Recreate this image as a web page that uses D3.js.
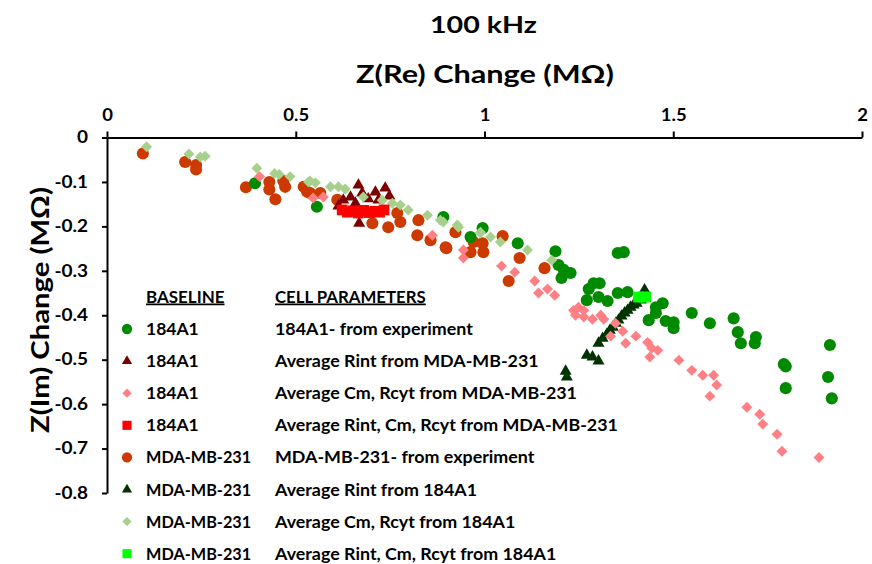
<!DOCTYPE html>
<html>
<head>
<meta charset="utf-8">
<script src="https://cdn.jsdelivr.net/npm/d3@7"></script>
<style>
  html, body { margin: 0; padding: 0; background: #fff; }
  svg { display: block; font-family: Lato, "Open Sans", sans-serif; font-weight: 700; }
</style>
</head>
<body>
<svg id="chart" width="872" height="564"></svg>
<script>
// Impedance change at 100 kHz: [Z(Re) change, Z(Im) change] in MΩ
const a184Experiment = [
  [0.392,-0.103],[0.556,-0.156],[0.891,-0.179],[0.995,-0.204],[0.963,-0.224],[1.088,-0.238],
  [1.188,-0.256],[1.196,-0.287],[1.210,-0.298],[1.228,-0.305],[1.204,-0.316],[1.353,-0.260],
  [1.369,-0.258],[1.276,-0.341],[1.289,-0.328],[1.305,-0.328],[1.302,-0.359],[1.326,-0.368],
  [1.271,-0.366],[1.353,-0.350],[1.379,-0.348],[1.472,-0.373],[1.454,-0.382],[1.454,-0.395],
  [1.435,-0.411],[1.480,-0.413],[1.501,-0.416],[1.501,-0.429],[1.549,-0.395],[1.597,-0.418],
  [1.660,-0.407],[1.671,-0.438],[1.679,-0.463],[1.719,-0.449],[1.716,-0.463],[1.793,-0.510],
  [1.798,-0.515],[1.798,-0.564],[1.915,-0.467],[1.910,-0.539],[1.920,-0.587]
];
const a184RintFromMda = [
  [0.666,-0.107],[0.737,-0.114],[0.711,-0.123],[0.676,-0.125],[0.645,-0.134],[0.626,-0.141],
  [0.692,-0.138],[0.719,-0.141],[0.748,-0.132],[0.658,-0.148],[0.668,-0.193],[0.613,-0.154]
];
const a184CmRcytFromMda = [
  [0.404,-0.088],[0.546,-0.136],[0.573,-0.134],[0.862,-0.220],[0.944,-0.253],[0.944,-0.271],
  [1.045,-0.289],[1.080,-0.303],[1.133,-0.323],[1.143,-0.350],[1.167,-0.341],[1.186,-0.355],
  [1.236,-0.389],[1.249,-0.382],[1.263,-0.389],[1.263,-0.404],[1.241,-0.400],[1.286,-0.409],
  [1.308,-0.400],[1.316,-0.409],[1.347,-0.418],[1.366,-0.436],[1.334,-0.447],[1.374,-0.463],
  [1.401,-0.447],[1.432,-0.461],[1.443,-0.474],[1.459,-0.479],[1.438,-0.494],[1.515,-0.501],
  [1.549,-0.524],[1.578,-0.535],[1.607,-0.535],[1.615,-0.557],[1.597,-0.582],[1.695,-0.607],
  [1.729,-0.623],[1.737,-0.645],[1.775,-0.668],[1.788,-0.706],[1.886,-0.720]
];
const a184AllFromMda = [
  [0.623,-0.163],[0.637,-0.168],[0.652,-0.165],[0.666,-0.170],[0.680,-0.164],
  [0.695,-0.169],[0.709,-0.166],[0.722,-0.168],[0.734,-0.163]
];
const mdaExperiment = [
  [0.095,-0.036],[0.207,-0.055],[0.236,-0.062],[0.236,-0.072],[0.368,-0.112],[0.430,-0.100],
  [0.430,-0.117],[0.446,-0.139],[0.472,-0.111],[0.467,-0.098],[0.521,-0.111],[0.530,-0.122],
  [0.538,-0.125],[0.565,-0.125],[0.610,-0.140],[0.703,-0.193],[0.745,-0.202],[0.777,-0.190],
  [0.769,-0.170],[0.825,-0.186],[0.822,-0.220],[0.857,-0.231],[0.897,-0.247],[0.923,-0.213],
  [0.899,-0.249],[0.971,-0.235],[0.995,-0.238],[0.997,-0.258],[0.963,-0.258],[1.048,-0.222],
  [1.093,-0.271],[1.064,-0.323],[1.159,-0.294]
];
const mdaRintFrom184 = [
  [1.302,-0.463],[1.313,-0.452],[1.324,-0.443],[1.332,-0.434],[1.340,-0.427],[1.348,-0.418],
  [1.355,-0.411],[1.363,-0.402],[1.371,-0.395],[1.379,-0.389],[1.387,-0.382],[1.395,-0.377],
  [1.403,-0.373],[1.414,-0.366],[1.424,-0.343],[1.271,-0.490],[1.286,-0.494],[1.302,-0.503],
  [1.215,-0.526],[1.218,-0.539]
];
const mdaCmRcytFrom184 = [
  [0.105,-0.021],[0.217,-0.037],[0.247,-0.044],[0.260,-0.042],[0.397,-0.069],[0.444,-0.081],
  [0.456,-0.083],[0.485,-0.088],[0.534,-0.100],[0.552,-0.102],[0.538,-0.098],[0.592,-0.111],
  [0.613,-0.111],[0.631,-0.116],[0.679,-0.134],[0.729,-0.141],[0.756,-0.148],[0.777,-0.152],
  [0.798,-0.163],[0.849,-0.175],[0.883,-0.186],[0.891,-0.190],[0.928,-0.197],[0.931,-0.202],
  [0.989,-0.213],[0.989,-0.215],[1.016,-0.224],[1.042,-0.235],[1.114,-0.253],[1.178,-0.276]
];
const mdaAllFrom184 = [[1.408,-0.359],[1.419,-0.359],[1.427,-0.359]];

const xTicks = [0, 0.5, 1, 1.5, 2];
const yTicks = [0, -0.1, -0.2, -0.3, -0.4, -0.5, -0.6, -0.7, -0.8];

const baselines = ["184A1","184A1","184A1","184A1","MDA-MB-231","MDA-MB-231","MDA-MB-231","MDA-MB-231"];
const parameters = [
  "184A1- from experiment",
  "Average Rint from MDA-MB-231",
  "Average Cm, Rcyt from MDA-MB-231",
  "Average Rint, Cm, Rcyt from MDA-MB-231",
  "MDA-MB-231- from experiment",
  "Average Rint from 184A1",
  "Average Cm, Rcyt from 184A1",
  "Average Rint, Cm, Rcyt from 184A1"
];

// series definitions in legend order
const series = [
  { data: a184Experiment,    shape: "circle",   color: "#008a00" },
  { data: a184RintFromMda,   shape: "triangle", color: "#7b0000" },
  { data: a184CmRcytFromMda, shape: "diamond",  color: "#ff7f85" },
  { data: a184AllFromMda,    shape: "square",   color: "#ff0000" },
  { data: mdaExperiment,     shape: "circle",   color: "#cc3a00" },
  { data: mdaRintFrom184,    shape: "triangle", color: "#003300" },
  { data: mdaCmRcytFrom184,  shape: "diamond",  color: "#a8d08d" },
  { data: mdaAllFrom184,     shape: "square",   color: "#00ff00" }
];
// paint order (later on top)
const drawOrder = [4, 0, 5, 2, 1, 6, 3, 7];

const svg = d3.select("#chart");
const x = d3.scaleLinear().domain([0, 2]).range([107, 862]);
const y = d3.scaleLinear().domain([0, -0.8]).range([137.5, 493]);

function symbolPath(shape, scale) {
  const s = scale || 1;
  if (shape === "circle") return d3.symbol(d3.symbolCircle, 115 * s * s)();
  if (shape === "triangle") return d3.symbol(d3.symbolTriangle, 62 * s * s)();
  if (shape === "diamond") return d3.symbol(d3.symbolSquare, 60 * s * s)();
  return d3.symbol(d3.symbolSquare, 115 * s * s)();
}

// widen or narrow text horizontally by factor k (keeps anchor behaviour)
function stretch(sel, k) {
  sel.each(function () {
    const len = this.getComputedTextLength();
    d3.select(this).attr("textLength", len * k).attr("lengthAdjust", "spacingAndGlyphs");
  });
}

// points
const plot = svg.append("g");
drawOrder.forEach(i => {
  const s = series[i];
  plot.append("g").selectAll("path").data(s.data).join("path")
    .attr("d", symbolPath(s.shape))
    .attr("transform", d => `translate(${x(d[0])},${y(d[1])})` + (s.shape === "diamond" ? " rotate(45)" : ""))
    .attr("fill", s.color);
});

// axes
const xAxis = svg.append("g").attr("transform", "translate(0,137.5)")
  .call(d3.axisTop(x).tickValues(xTicks).tickFormat(d => String(d)).tickSize(6).tickSizeOuter(0).tickPadding(11));
const yAxis = svg.append("g").attr("transform", "translate(107,0)")
  .call(d3.axisLeft(y).tickValues(yTicks).tickFormat(d => d === 0 ? "0" : d.toFixed(1)).tickSize(5).tickSizeOuter(0).tickPadding(14));
[xAxis, yAxis].forEach(a => {
  a.select(".domain").attr("stroke", "#000").attr("stroke-width", 2);
  a.selectAll(".tick line").attr("stroke", "#000").attr("stroke-width", 2);
  a.selectAll(".tick text").attr("fill", "#000").attr("font-size", 16.5)
    .attr("font-family", "Lato, sans-serif").attr("font-weight", 700);
});
stretch(xAxis.selectAll(".tick text"), 1.12);
stretch(yAxis.selectAll(".tick text"), 1.15);

// titles
svg.append("text").attr("x", 483.5).attr("y", 33).attr("text-anchor", "middle")
  .attr("font-size", 23.5).attr("textLength", 107).attr("lengthAdjust", "spacingAndGlyphs").text("100 kHz");
svg.append("text").attr("x", 485).attr("y", 83).attr("text-anchor", "middle")
  .attr("font-size", 24.5).attr("textLength", 258).attr("lengthAdjust", "spacingAndGlyphs").text("Z(Re) Change (MΩ)");
svg.append("text").attr("transform", "translate(49,310) rotate(-90)").attr("text-anchor", "middle")
  .attr("font-size", 24.5).attr("textLength", 246).attr("lengthAdjust", "spacingAndGlyphs").text("Z(Im) Change (MΩ)");

// legend
const lg = svg.append("g").attr("font-size", 17.5);
const col1 = 146, col2 = 275, symX = 127;
const h1 = lg.append("text").attr("x", col1).attr("y", 302.5).attr("text-decoration", "underline").text("BASELINE");
const h2 = lg.append("text").attr("x", col2).attr("y", 302.5).attr("text-decoration", "underline").text("CELL PARAMETERS");
stretch(h1, 0.97);
stretch(h2, 0.96);
series.forEach((s, i) => {
  const cy = 329 + i * 32.1;
  lg.append("path").attr("d", symbolPath(s.shape, 0.85))
    .attr("transform", `translate(${symX},${cy})` + (s.shape === "diamond" ? " rotate(45)" : ""))
    .attr("fill", s.color);
  const t1 = lg.append("text").attr("x", col1).attr("y", cy + 6).text(baselines[i]);
  const t2 = lg.append("text").attr("x", col2).attr("y", cy + 6).text(parameters[i]);
  stretch(t1, baselines[i].length > 6 ? 0.93 : 1.0);
  stretch(t2, 1.02);
});
</script>
</body>
</html>
